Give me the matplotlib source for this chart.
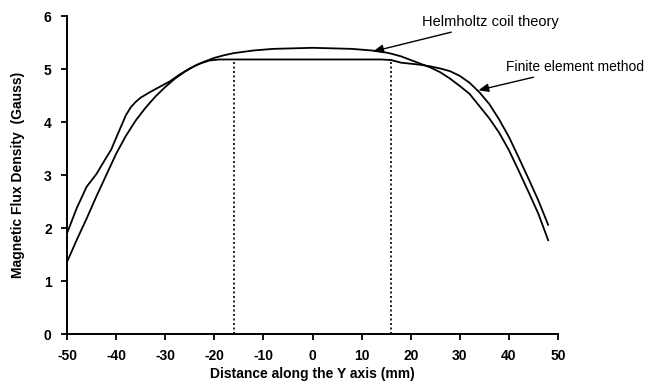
import matplotlib
matplotlib.use("Agg")
import matplotlib.pyplot as plt

# Helmholtz coil theory
helm_x = [-50, -48, -46, -44, -42, -40, -38, -36, -34, -32, -30, -28, -26, -24, -22, -20,
          -18, -16, -12, -8, -4, 0, 4, 8, 12, 14, 16, 18, 20, 22, 24, 26, 28, 30, 32, 34,
          36, 38, 40, 42, 44, 46, 48]
helm_y = [1.36, 1.78, 2.18, 2.60, 3.00, 3.40, 3.74, 4.03, 4.27, 4.48, 4.66, 4.82, 4.95, 5.06,
          5.14, 5.21, 5.26, 5.30, 5.35, 5.38, 5.39, 5.40, 5.39, 5.38, 5.35, 5.33, 5.29, 5.24,
          5.17, 5.10, 5.03, 4.94, 4.82, 4.68, 4.53, 4.30, 4.07, 3.80, 3.47, 3.08, 2.68, 2.27, 1.77]

# Finite element method
fem_x = [-50, -48, -46, -44, -42, -41, -40, -38, -37, -36, -35, -33, -31, -29, -27, -25, -23,
         -21, -19, -10, 0, 10, 14, 16, 18, 20, 22, 24, 26, 28, 30, 32, 34, 36, 38, 40, 42, 44,
         46, 48]
fem_y = [1.90, 2.38, 2.78, 3.02, 3.33, 3.48, 3.70, 4.13, 4.28, 4.38, 4.46, 4.57, 4.67, 4.77,
         4.90, 5.01, 5.10, 5.16, 5.18, 5.18, 5.18, 5.18, 5.18, 5.17, 5.12, 5.10, 5.08, 5.05,
         5.01, 4.96, 4.87, 4.74, 4.56, 4.34, 4.05, 3.72, 3.33, 2.93, 2.52, 2.06]

# Uniform region limits (dotted lines)
region_x = [-16, 16]
region_top = 5.18

x_ticks = [-50, -40, -30, -20, -10, 0, 10, 20, 30, 40, 50]
y_ticks = [0, 1, 2, 3, 4, 5, 6]

plt.rcParams['font.family'] = ['Liberation Sans', 'DejaVu Sans']

fig = plt.figure(figsize=(6.52, 3.84), dpi=100)
ax = fig.add_axes([0.1028, 0.1302, 0.7530, 0.8281])

ax.plot(helm_x, helm_y, color='black', lw=1.3)
ax.plot(fem_x, fem_y, color='black', lw=1.3)
for xv in region_x:
    ax.plot([xv, xv], [0, region_top], color='black', lw=1.2, linestyle=(0, (1.2, 1.5)))

ax.set_xlim(-50, 50)
ax.set_ylim(0, 6)
ax.set_xticks(x_ticks)
ax.set_yticks(y_ticks)
ax.set_xticklabels([str(t) for t in x_ticks], fontsize=10, fontweight='bold')
ax.set_yticklabels([str(t) for t in y_ticks], fontsize=10, fontweight='bold')
ax.tick_params(axis='x', direction='out', length=4, width=1.3, pad=7)
ax.tick_params(axis='y', direction='out', length=4, width=1.3, pad=7)
for s in ['top', 'right']:
    ax.spines[s].set_visible(False)
for s in ['left', 'bottom']:
    ax.spines[s].set_linewidth(1.4)

ax.set_xlabel('Distance along the Y axis (mm)', fontsize=10, fontweight='bold', labelpad=3)
ax.set_ylabel('Magnetic Flux Density  (Gauss)', fontsize=10, fontweight='bold', labelpad=14)

arrow = dict(arrowstyle='-|>,head_length=0.6,head_width=0.25', color='black', lw=1.0,
             shrinkA=0, shrinkB=0)
ax.annotate('Helmholtz coil theory', xy=(12.3, 5.33), xytext=(22.4, 5.88),
            fontsize=10.5, ha='left', va='center', arrowprops=arrow, annotation_clip=False)
ax.annotate('Finite element method', xy=(33.8, 4.60), xytext=(39.4, 5.03),
            fontsize=10, ha='left', va='center', arrowprops=arrow, annotation_clip=False)

fig.savefig('out.png', dpi=100)
